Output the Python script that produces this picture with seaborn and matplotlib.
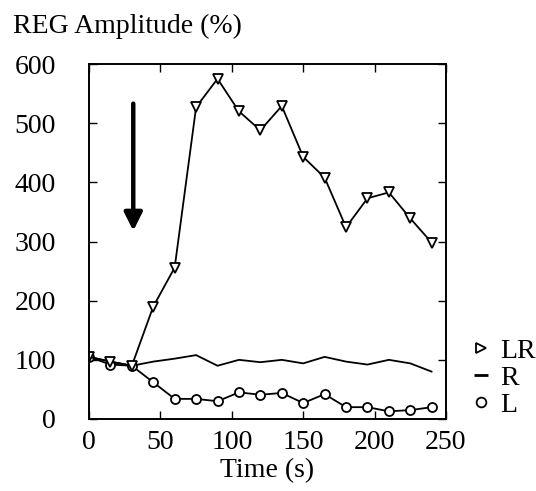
import numpy as np
import pandas as pd
import matplotlib
matplotlib.use("Agg")
import matplotlib.pyplot as plt
from matplotlib.lines import Line2D
import seaborn as sns

time_s = [0, 15, 30, 45, 60, 75, 90, 105, 120, 135, 150, 165, 180, 195, 210, 225, 240]
lr_vals = [105, 97, 90, 190, 256, 527, 575, 520, 488, 529, 443, 408, 324, 373, 383, 339, 298]
r_vals = [105, 97, 90, 97, 102, 108, 90, 100, 96, 100, 94, 105, 97, 92, 100, 94, 80]
l_vals = [105, 92, 90, 62, 34, 34, 30, 45, 41, 44, 27, 42, 20, 20, 13, 15, 20]
x_ticks = [0, 50, 100, 150, 200, 250]
y_ticks = [0, 100, 200, 300, 400, 500, 600]
arrow_x = 31
arrow_y_from = 533
arrow_y_to = 318

sns.set_theme(style="ticks")
plt.rcParams['font.family'] = ['Liberation Serif', 'DejaVu Serif']
plt.rcParams['text.color'] = 'black'
plt.rcParams['axes.labelcolor'] = 'black'
plt.rcParams['xtick.color'] = 'black'
plt.rcParams['ytick.color'] = 'black'
FS = 20

fig = plt.figure(figsize=(5.36, 4.91), dpi=100)
ax = fig.add_axes([89/536, 1 - 419/491, (446-89)/536, (419-64)/491])

df_lr = pd.DataFrame({"t": time_s, "v": lr_vals})
df_r = pd.DataFrame({"t": time_s, "v": r_vals})
df_l = pd.DataFrame({"t": time_s, "v": l_vals})

lw = 1.3
sns.lineplot(data=df_r, x="t", y="v", ax=ax, color="black", lw=lw)
sns.lineplot(data=df_l, x="t", y="v", ax=ax, color="black", lw=lw,
             marker="o", markersize=6.5, markerfacecolor="white",
             markeredgecolor="black", markeredgewidth=1.3)
sns.lineplot(data=df_lr, x="t", y="v", ax=ax, color="black", lw=lw,
             marker="v", markersize=6.5, markerfacecolor="white",
             markeredgecolor="black", markeredgewidth=1.3)

ax.annotate("", xy=(arrow_x, arrow_y_to), xytext=(arrow_x, arrow_y_from),
            arrowprops=dict(arrowstyle="-|>,head_length=0.9,head_width=0.45",
                            lw=3.2, color="black", shrinkA=0, shrinkB=0))

ax.set_xlim(0, 250)
ax.set_ylim(0, 600)
ax.set_xticks(x_ticks)
ax.set_yticks(y_ticks)
ax.set_xticklabels([str(v) for v in x_ticks], fontsize=FS, color="black")
ax.set_yticklabels([str(v) for v in y_ticks], fontsize=FS, color="black")
ax.tick_params(axis="both", direction="in", length=6, width=1.0,
               top=True, right=True, colors="black")
ax.tick_params(axis="x", pad=8)
ax.tick_params(axis="y", pad=24)
for s in ax.spines.values():
    s.set_visible(True)
    s.set_linewidth(1.4)
    s.set_color("black")

ax.set_xlabel("Time (s)", fontsize=FS, labelpad=2, color="black")
ax.set_ylabel("")
fig.text(13/536, 1 - 26/491, "REG Amplitude (%)", fontsize=FS,
         ha="left", va="center", color="black")

handles = [
    Line2D([], [], linestyle="none", marker=">", markersize=7,
           markerfacecolor="white", markeredgecolor="black", markeredgewidth=1.3),
    Line2D([], [], linestyle="none", marker="_", markersize=10,
           markeredgecolor="black", markeredgewidth=2),
    Line2D([], [], linestyle="none", marker="o", markersize=7,
           markerfacecolor="white", markeredgecolor="black", markeredgewidth=1.3),
]
leg = fig.legend(handles, ["LR", "R", "L"], loc="center left",
                 bbox_to_anchor=(470/536, 1 - 378/491), frameon=False,
                 fontsize=FS, handlelength=0.8, handletextpad=0.3,
                 labelspacing=0.05, borderpad=0, borderaxespad=0)
for t in leg.get_texts():
    t.set_color("black")

fig.savefig("out.png", dpi=100)
